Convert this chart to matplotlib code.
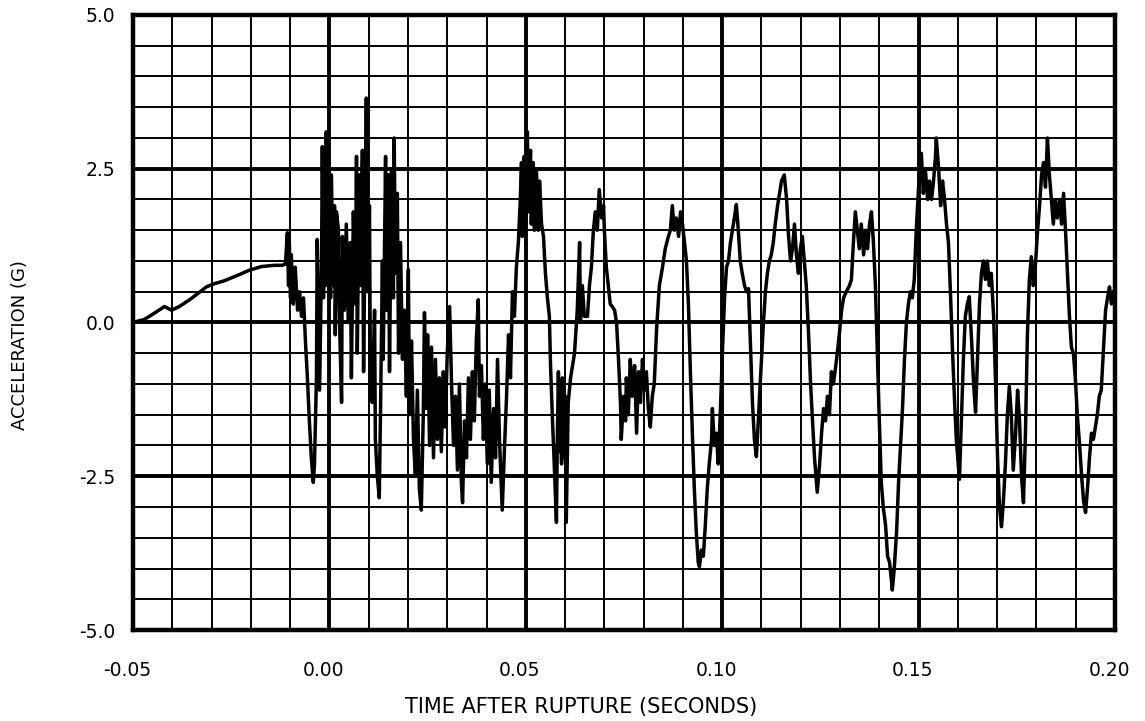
import numpy as np
import matplotlib
matplotlib.use("Agg")
import matplotlib.pyplot as plt
from matplotlib.transforms import ScaledTranslation

# ---- data (time in milliseconds after rupture, acceleration in g) ----
time_ms = [
    -50.0, -47.1, -44.6, -42.0, -40.2, -38.2, -35.6, -33.1, -31.3, -29.3, -26.7, -22.9, -20.4, -17.3, -14.0, -12.0,
    -11.2, -10.7, -10.4, -10.2, -9.9, -9.7, -9.2, -8.7, -8.1, -7.6, -7.1, -6.6, -6.1, -5.6, -5.1, -4.6, -4.1, -3.8,
    -3.3, -3.1, -2.5, -2.0, -1.8, -1.5, -1.3, -1.0, -0.8, -0.5, -0.3, 0.3, 0.5, 1.0, 1.3, 1.5, 1.8, 2.3, 2.5, 3.1,
    3.3, 3.8, 4.3, 4.8, 5.3, 5.6, 6.1, 6.6, 6.9, 7.1, 7.6, 7.9, 8.4, 8.7, 9.2, 9.4, 9.7, 10.2, 10.4, 10.9, 11.5,
    11.7, 12.2, 12.7, 13.0, 13.5, 13.7, 14.3, 14.5, 15.0, 15.3, 15.8, 16.3, 16.5, 16.8, 17.3, 17.6, 18.1, 18.6,
    19.1, 19.6, 20.1, 20.4, 20.9, 21.4, 21.9, 22.4, 22.9, 23.4, 23.9, 24.2, 24.7, 25.0, 25.5, 26.0, 26.5, 27.0,
    27.5, 28.0, 28.5, 29.0, 29.5, 30.0, 30.6, 31.1, 31.6, 32.1, 32.6, 33.1, 33.6, 33.9, 34.4, 34.9, 35.4, 35.9,
    36.4, 36.9, 37.4, 37.9, 38.2, 38.7, 39.2, 39.7, 40.2, 40.7, 41.2, 41.8, 42.3, 42.8, 43.3, 43.8, 44.0, 44.6,
    45.1, 45.6, 46.1, 46.6, 47.1, 47.6, 48.1, 48.6, 48.9, 49.1, 49.6, 49.9, 50.4, 50.7, 51.2, 51.4, 51.9, 52.2,
    52.7, 53.2, 53.5, 54.0, 54.5, 55.0, 55.5, 56.0, 56.3, 56.8, 57.3, 57.8, 58.0, 58.3, 58.6, 58.8, 59.1, 59.3,
    59.8, 60.1, 60.3, 60.8, 61.4, 61.9, 62.4, 63.1, 63.7, 63.9, 64.4, 64.9, 65.7, 66.2, 66.7, 67.2, 67.7, 68.2,
    68.7, 69.3, 69.8, 70.0, 70.5, 71.0, 71.5, 72.1, 72.6, 73.1, 73.6, 74.1, 74.3, 74.9, 75.4, 75.6, 76.1, 76.6,
    77.1, 77.7, 78.2, 78.7, 79.2, 79.7, 80.2, 80.7, 81.2, 81.7, 82.2, 82.7, 83.3, 84.0, 84.8, 85.5, 86.3, 86.8,
    87.3, 87.8, 88.3, 88.9, 89.4, 89.9, 90.4, 90.9, 91.4, 91.9, 92.4, 92.9, 93.4, 93.9, 94.2, 94.7, 95.2, 95.7,
    96.2, 96.7, 97.3, 97.5, 98.0, 98.5, 99.0, 99.5, 100.1, 100.6, 101.1, 101.6, 102.1, 102.6, 103.1, 103.6,
    104.1, 104.6, 105.1, 105.7, 106.2, 106.7, 107.2, 107.7, 108.2, 108.7, 109.2, 109.5, 110.0, 110.5, 111.0,
    111.5, 112.0, 112.5, 113.0, 113.5, 114.1, 114.6, 115.1, 115.8, 116.4, 116.9, 117.4, 117.9, 118.4, 118.9,
    119.4, 119.9, 120.4, 120.9, 121.4, 122.0, 122.5, 123.0, 123.5, 124.2, 124.8, 125.3, 125.8, 126.3, 126.8,
    127.3, 127.8, 128.3, 128.8, 129.3, 129.8, 130.4, 130.9, 131.6, 132.4, 132.9, 133.4, 133.9, 134.4, 134.9,
    135.4, 136.0, 136.5, 137.0, 137.5, 138.0, 138.5, 139.0, 139.5, 140.0, 140.5, 141.0, 141.6, 142.1, 142.6,
    143.1, 143.3, 143.8, 144.4, 144.9, 145.4, 145.9, 146.4, 146.9, 147.4, 147.9, 148.4, 148.9, 149.4, 150.0,
    150.5, 150.7, 151.2, 151.7, 152.3, 152.8, 153.3, 153.8, 154.3, 154.5, 155.1, 155.6, 156.1, 156.6, 157.1,
    157.6, 158.1, 158.6, 159.1, 159.6, 160.1, 160.4, 160.9, 161.4, 161.9, 162.4, 162.9, 163.5, 164.0, 164.5,
    165.0, 165.5, 166.0, 166.5, 167.0, 167.5, 168.0, 168.5, 169.1, 169.6, 170.1, 170.6, 171.1, 171.6, 172.1,
    172.6, 173.1, 173.6, 174.1, 174.7, 175.2, 175.7, 176.2, 176.7, 177.2, 177.7, 178.2, 178.7, 179.2, 179.7,
    180.3, 180.8, 181.3, 181.8, 182.3, 182.8, 183.3, 183.8, 184.3, 184.8, 185.3, 185.9, 186.4, 186.9, 187.4,
    187.9, 188.4, 188.9, 189.4, 189.9, 190.4, 191.0, 191.5, 192.0, 192.5, 193.0, 193.5, 194.0, 194.5, 195.0,
    195.5, 196.0, 196.5, 197.1, 197.6, 198.1, 198.6, 199.1, 199.6,
]

accel_g = [
    0.00, 0.05, 0.15, 0.26, 0.20, 0.26, 0.37, 0.49, 0.58, 0.63, 0.68, 0.78, 0.85, 0.91, 0.93, 0.93,
    0.95, 1.46, 0.6, 1.3, 0.4, 1.1, 0.3, 0.9, 0.2, 0.5, 0.1, 0.4, -0.3, -0.9, -1.6, -2.2, -2.6, -2.3,
    -0.9, 1.35, -1.1, 1.0, 2.86, 0.4, 2.7, 0.6, 3.1, 0.8, 2.9, 0.4, 2.4, 0.6, 1.9, -0.2, 1.8, 1.5, 0.2, -1.3,
    1.4, 0.2, 1.6, 0.0, 1.3, -0.9, 1.8, 0.3, 2.7, -0.5, 2.4, 0.6, 2.8, -0.8, 2.2, 3.65, 0.5, 1.9, -0.4, -1.3, 0.2,
    -1.9, -2.5, -2.85, -1.5, 1.0, -0.6, 2.7, 0.2, 2.4, -0.8, 2.5, 0.4, 3.0, 0.8, 2.1, -0.5, 1.3, -0.6,
    0.2, -1.2, 0.86, -1.5, -0.3, -1.9, -2.5, -1.1, -2.7, -3.05, -1.5, 0.16, -1.4, -0.2, -2.0, -0.4, -2.2, -0.6,
    -1.9, -0.9, -2.1, -0.8, -1.7, -0.5, 0.26, -1.0, -2.0, -1.2, -2.4, -1.0, -2.6, -2.93, -1.6, -2.2, -0.9, -1.9,
    -0.8, -1.6, -0.3, 0.37, -1.2, -0.7, -1.9, -1.0, -2.3, -1.1, -2.6, -1.4, -2.2, -0.6, -1.9, -2.7, -3.05, -2.0,
    -1.2, -0.2, -0.9, 0.5, 0.1, 0.9, 1.3, 2.0, 2.6, 1.4, 2.7, 1.6, 3.1, 1.8, 2.8, 1.6, 2.6, 1.5,
    2.5, 1.5, 2.3, 1.6, 1.4, 0.8, 0.4, 0.1, -0.7, -1.6, -2.4, -3.25, -2.0, -0.8, -2.1, -1.0, -2.3, -0.9,
    -2.2, -1.2, -3.25, -1.3, -0.9, -0.7, -0.5, 0.2, 1.3, 0.0, 0.6, 0.1, 0.1, 0.6, 0.9, 1.5, 1.8, 1.5,
    2.16, 1.7, 1.9, 1.5, 0.9, 0.6, 0.3, 0.25, 0.2, 0.0, -0.6, -1.3, -1.9, -1.2, -1.6, -0.9, -1.5, -0.6,
    -1.2, -0.7, -1.8, -0.8, -1.3, -0.6, -1.1, -0.8, -1.4, -1.7, -1.2, -1.0, -0.1, 0.6, 0.9, 1.2, 1.4, 1.5,
    1.9, 1.5, 1.7, 1.4, 1.8, 1.6, 1.3, 1.0, 0.3, -0.8, -1.8, -2.7, -3.4, -3.9, -3.97, -3.7, -3.8, -3.3,
    -2.7, -2.3, -1.9, -1.4, -2.0, -1.8, -2.3, -1.5, -0.4, 0.4, 0.9, 1.0, 1.3, 1.5, 1.7, 1.92,
    1.5, 1.0, 0.8, 0.6, 0.5, 0.55, -0.4, -1.3, -1.9, -2.18, -1.6, -1.2, -0.6, 0.0, 0.5,
    0.8, 1.0, 1.1, 1.3, 1.6, 1.9, 2.1, 2.3, 2.4, 2.0, 1.4, 1.0, 1.2, 1.6, 1.1,
    0.8, 1.2, 1.4, 1.0, 0.6, -0.2, -1.0, -1.6, -2.2, -2.76, -2.3, -1.8, -1.4, -1.6, -1.2,
    -1.5, -0.8, -1.0, -0.76, -0.5, -0.2, 0.2, 0.4, 0.5, 0.6, 0.7, 1.3, 1.8, 1.5, 1.2,
    1.6, 1.1, 1.5, 1.2, 1.6, 1.8, 1.3, 0.6, -0.5, -1.6, -2.6, -3.0, -3.3, -3.8, -3.9,
    -4.2, -4.35, -4.0, -3.4, -2.6, -2.0, -1.4, -0.6, 0.0, 0.3, 0.5, 0.4, 0.7, 1.5, 2.2,
    2.6, 2.75, 2.1, 2.5, 2.0, 2.3, 2.0, 2.3, 2.7, 3.0, 2.5, 1.9, 2.3, 2.0, 1.6,
    1.3, 0.5, -0.4, -1.2, -1.9, -2.3, -2.55, -1.6, -0.6, 0.1, 0.3, 0.42, -0.3, -1.0, -1.46,
    -0.6, 0.3, 0.8, 1.0, 0.7, 1.0, 0.6, 0.8, 0.1, -1.0, -2.2, -3.0, -3.32, -2.9, -2.3,
    -1.5, -1.04, -1.5, -2.4, -1.8, -1.1, -1.6, -2.5, -2.93, -1.8, -0.2, 0.7, 1.07, 0.6, 0.9,
    1.5, 1.9, 2.4, 2.6, 2.2, 3.0, 2.4, 2.0, 1.6, 2.0, 1.7, 2.0, 1.6, 2.1, 1.5,
    0.8, 0.1, -0.4, -0.5, -0.9, -1.5, -2.0, -2.5, -2.9, -3.09, -2.7, -2.2, -1.8, -1.9, -1.7,
    -1.5, -1.2, -1.1, -0.4, 0.2, 0.4, 0.58, 0.3, 0.5,
]

x_major = [-0.05, 0.00, 0.05, 0.10, 0.15, 0.20]
x_major_labels = ["-0.05", "0.00", "0.05", "0.10", "0.15", "0.20"]
y_major = [-5.0, -2.5, 0.0, 2.5, 5.0]
y_major_labels = ["-5.0", "-2.5", "0.0", "2.5", "5.0"]
x_label = "TIME AFTER RUPTURE (SECONDS)"
y_label = "ACCELERATION (G)"

# ---- figure ----
W, H, DPI = 1145, 721, 100
fig = plt.figure(figsize=(W / DPI, H / DPI), dpi=DPI)
ax = fig.add_axes([133 / W, 1 - 630 / H, (1115 - 133) / W, (630 - 15) / H])

t_s = np.array(time_ms) / 1000.0
ax.plot(t_s, accel_g, color="black", lw=2.5, solid_joinstyle="round", zorder=3)

ax.set_xlim(-0.05, 0.20)
ax.set_ylim(-5.0, 5.0)
ax.set_xticks(x_major)
ax.set_xticklabels(x_major_labels)
ax.set_yticks(y_major)
ax.set_yticklabels(y_major_labels)
ax.set_xticks(np.round(np.arange(-0.05, 0.2001, 0.01), 3), minor=True)
ax.set_yticks(np.round(np.arange(-5.0, 5.001, 0.5), 2), minor=True)

ax.grid(which="minor", color="black", lw=1.4, zorder=1)
ax.grid(which="major", color="black", lw=2.8, zorder=1)
ax.set_axisbelow(True)
for sp in ax.spines.values():
    sp.set_linewidth(3.2)
    sp.set_color("black")

font = "DejaVu Sans"
ax.tick_params(which="both", length=0)
ax.tick_params(axis="y", pad=13, labelsize=13.5)
ax.tick_params(axis="x", pad=22, labelsize=13.5)
for lab in ax.get_xticklabels():
    lab.set_fontfamily(font)
    lab.set_transform(lab.get_transform() + ScaledTranslation(-6 / DPI, 0, fig.dpi_scale_trans))
for lab in ax.get_yticklabels():
    lab.set_fontfamily(font)

fig.text(581 / W, 1 - 707 / H, x_label, ha="center", va="center", fontsize=15, family=font)
fig.text(20 / W, 1 - 345 / H, y_label, ha="center", va="center", rotation=90, fontsize=13, family=font)

fig.savefig("out.png", dpi=DPI, facecolor="white")
